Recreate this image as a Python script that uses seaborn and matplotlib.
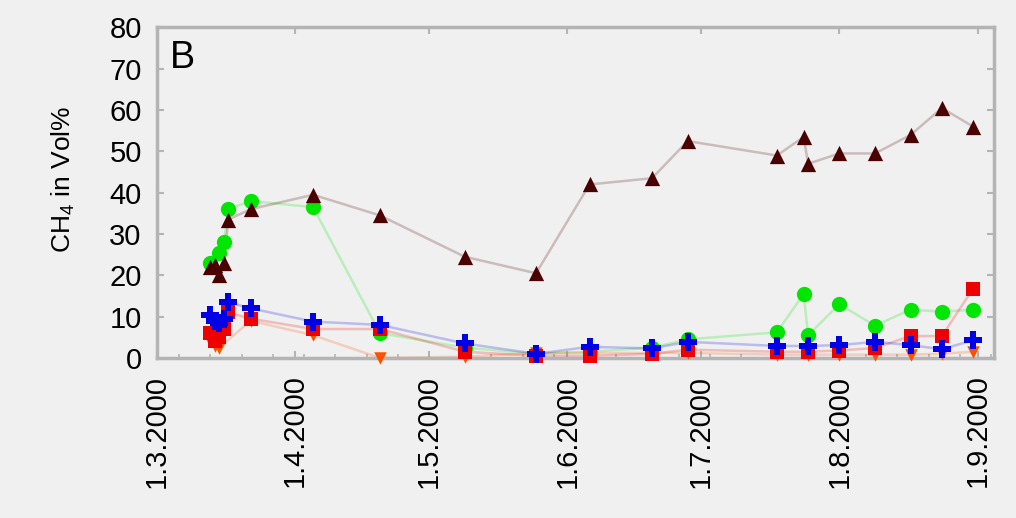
# CH4 time series, panel B
import datetime as dt
from matplotlib import pyplot as plt
import matplotlib.dates as mdates
import seaborn as sns
import pandas as pd

# sampling dates (day.month.2000)
dates = ['2000-03-13', '2000-03-14', '2000-03-15', '2000-03-16', '2000-03-17',
         '2000-03-22', '2000-04-05', '2000-04-20', '2000-05-09', '2000-05-25',
         '2000-06-06', '2000-06-20', '2000-06-28', '2000-07-18', '2000-07-24',
         '2000-07-25', '2000-08-01', '2000-08-09', '2000-08-17', '2000-08-24',
         '2000-08-31']

# CH4 in Vol% per series (None = no sample)
brown = [22, 22.5, 20, 23, 33.5, 36, 39.5, 34.5, 24.5, 20.5, 42, 43.5, 52.5,
         49, 53.5, 47, 49.5, 49.5, 54, 60.5, 56]
green = [23, None, 25.5, 28, 36, 38, 36.5, 6, 2.5, 1, 1.5, 2.5, 4.5,
         6.2, 15.5, 5.5, 13, 7.8, 11.7, 11.2, 11.7]
red = [6, 4, 5, 7, 11, 9.5, 7, 7, 1.5, 0.5, 0.5, 1, 2,
       1.5, None, 1.5, 1.8, 2.4, 5.3, 5.3, 16.8]
orange = [4, 3, 2.5, None, None, 9, 5.5, 0, 0.3, 1.2, 1.2, 1.2, 1.2,
          0.8, None, 0.8, 0.8, 0.8, 0.8, 1.0, 1.5]
blue = [10.5, 9, 8.5, 9.5, 13.5, 12, 8.8, 8, 3.5, 1, 2.7, 2.3, 3.9,
        2.9, None, 2.9, 3.1, 3.9, 3.1, 2.1, 4.3]

# draw order: green, brown, orange, red, blue on top
series = [
    (green, '#00e600', 'o', 11),
    (brown, '#4a0000', '^', 11),
    (orange, '#ff5000', 'v', 9),
    (red, '#ee0000', 's', 10),
    (blue, '#0000e6', 'P', 13),
]

bg = '#f0f0f0'
sns.set_style('ticks', {'axes.facecolor': bg, 'figure.facecolor': bg})
plt.rcParams['font.family'] = ['Liberation Sans', 'DejaVu Sans']
plt.rcParams['mathtext.fontset'] = 'custom'
plt.rcParams['mathtext.rm'] = 'Liberation Sans'
plt.rcParams['text.color'] = 'black'
plt.rcParams['axes.labelcolor'] = 'black'
plt.rcParams['xtick.labelcolor'] = 'black'
plt.rcParams['ytick.labelcolor'] = 'black'

fig = plt.figure(figsize=(10.16, 5.18), dpi=100)
ax = fig.add_axes([0.1545, 0.309, 0.8238, 0.638])

for vals, col, mk, ms in series:
    df = pd.DataFrame({'date': pd.to_datetime(dates), 'ch4': vals}).dropna()
    sns.lineplot(data=df, x='date', y='ch4', color=col, alpha=0.22,
                 linewidth=1.8, ax=ax, zorder=2)

for vals, col, mk, ms in series:
    df = pd.DataFrame({'date': pd.to_datetime(dates), 'ch4': vals}).dropna()
    sns.scatterplot(data=df, x='date', y='ch4', color=col, marker=mk,
                    s=ms ** 2, linewidth=0, ax=ax, zorder=3, clip_on=False)

ax.set_xlim(dt.datetime(2000, 3, 1), dt.datetime(2000, 9, 4, 16))
ax.set_ylim(0, 80)
ax.set_yticks(range(0, 81, 10))
ax.xaxis.set_major_locator(mdates.MonthLocator())
ax.xaxis.set_minor_locator(mdates.WeekdayLocator(byweekday=mdates.MO))
ax.xaxis.set_major_formatter(
    plt.FuncFormatter(lambda v, p: '{0.day}.{0.month}.{0.year}'.format(mdates.num2date(v))))

for s in ax.spines.values():
    s.set_visible(True)
    s.set_color('#b4b4b4')
    s.set_linewidth(2.5)

ax.tick_params(which='major', direction='in', length=5, width=1.5,
               color='#b4b4b4', top=True, right=True, labelsize=21, pad=11)
ax.tick_params(axis='x', which='major', labelrotation=90, pad=12)
ax.tick_params(axis='x', which='minor', direction='in', length=3, width=1.2,
               color='#b4b4b4', bottom=True, top=False)

ax.set_xlabel('')
ax.set_ylabel('CH$_\\mathregular{4}$ in Vol%', fontsize=19)
ax.yaxis.set_label_coords(-0.095, 0.54)

ax.text(0.0155, 0.877, 'B', transform=ax.transAxes, fontsize=27,
        ha='left', va='baseline')

plt.savefig('out.png', dpi=100, facecolor=bg)
